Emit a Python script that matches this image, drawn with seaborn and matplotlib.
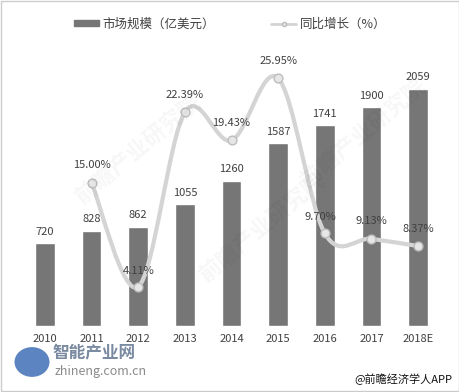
import numpy as np
import pandas as pd
import matplotlib
matplotlib.use("Agg")
import matplotlib.pyplot as plt
import seaborn as sns
from matplotlib.path import Path
from matplotlib.patches import PathPatch, Rectangle, Circle
from matplotlib.lines import Line2D

# ------------------------------------------
# data
# ------------------------------------------
years = ["2010", "2011", "2012", "2013", "2014", "2015", "2016", "2017", "2018E"]
market_size = [720, 828, 862, 1055, 1260, 1587, 1741, 1900, 2059]
growth_years = ["2011", "2012", "2013", "2014", "2015", "2016", "2017", "2018E"]
growth_rate = [15.00, 4.11, 22.39, 19.43, 25.95, 9.70, 9.13, 8.37]

bar_label = "市场规模（亿美元）"
line_label = "同比增长（%）"

sns.set_theme(style="white")
plt.rcParams["font.family"] = ["Noto Sans CJK SC", "DejaVu Sans"]

bar_color = "#767676"
line_color = "#d4d4d4"
text_color = "#404040"

df = pd.DataFrame({"year": years, "size": market_size})

fig = plt.figure(figsize=(4.6, 3.92), dpi=100)
ax = fig.add_axes([21.7 / 460, 66 / 392, 419.6 / 460, 266 / 392])

sns.barplot(data=df, x="year", y="size", color=bar_color, width=0.42,
            saturation=1, ax=ax)
ax.set_ylim(0, 2307)
ax.set_xlim(-0.5, len(years) - 0.5)
ax.set_xlabel("")
ax.set_ylabel("")
ax.set_yticks([])
ax.tick_params(axis="x", length=0, labelsize=8, labelcolor=text_color, pad=6)
for s in ax.spines.values():
    s.set_visible(False)

for i, v in enumerate(market_size):
    ax.text(i, v + 55, str(v), ha="center", va="bottom", fontsize=8, color=text_color)

# ------------------------------------------
# growth line (secondary axis, smoothed)
# ------------------------------------------
ax2 = ax.twinx()
ax2.set_ylim(0, 27.85)
ax2.set_yticks([])
for s in ax2.spines.values():
    s.set_visible(False)

gx = np.array([years.index(y) for y in growth_years], dtype=float)
gy = np.array(growth_rate)

# catmull-rom -> cubic bezier in display space
pts = ax2.transData.transform(np.column_stack([gx, gy]))
verts = [pts[0]]
codes = [Path.MOVETO]
t = 1 / 6
for i in range(len(pts) - 1):
    p0 = pts[i - 1] if i > 0 else pts[i]
    p1 = pts[i]
    p2 = pts[i + 1]
    p3 = pts[i + 2] if i + 2 < len(pts) else pts[i + 1]
    c1 = p1 + (p2 - p0) * t
    c2 = p2 - (p3 - p1) * t
    verts += [c1, c2, p2]
    codes += [Path.CURVE4] * 3
path = Path(verts, codes)
ax2.add_patch(PathPatch(path, facecolor="none", edgecolor=line_color, lw=3,
                        transform=None, zorder=3, capstyle="round"))
ax2.scatter(gx, gy, s=40, color="#e6e6e6", edgecolor="#bdbdbd", linewidth=1, zorder=4)

offsets = {"2012": (0, 8), "2016": (-3, 8)}
for x, y, lab in zip(gx, gy, growth_years):
    dx, dy = offsets.get(lab, (0, 9))
    ax2.annotate(f"{growth_rate[growth_years.index(lab)]:.2f}%", (x, y),
                 xytext=(dx, dy), textcoords="offset points",
                 ha="center", va="bottom", fontsize=8, color=text_color, zorder=5)

# ------------------------------------------
# legend
# ------------------------------------------
handles = [Rectangle((0, 0), 1, 1, color=bar_color),
           Line2D([0], [0], color=line_color, lw=2, marker="o", markersize=3,
                  markerfacecolor="#e6e6e6", markeredgecolor="#bdbdbd")]
fig.legend(handles, [bar_label, line_label], loc="center", ncol=2,
           bbox_to_anchor=(0.5, 1 - 24 / 392), frameon=False, fontsize=9,
           handlelength=2.0, handleheight=0.45, handletextpad=0.3,
           columnspacing=4.5, labelcolor=text_color)

# ------------------------------------------
# watermarks / logos
# ------------------------------------------
for xc, yc in [(0.30, 0.62), (0.57, 0.42), (0.79, 0.66)]:
    fig.text(xc, yc, "前瞻产业研究院", fontsize=16, color="#000000", alpha=0.035,
             rotation=40, ha="center", va="center", fontweight="bold")

fig.patches.append(Circle((32 / 460, 1 - 362 / 392), 0.038, transform=fig.transFigure,
                          facecolor="#3f6fb5", alpha=0.85, edgecolor="none"))
fig.text(52 / 460, 1 - 352 / 392, "智能产业网", fontsize=12, fontweight="bold",
         color="#7a8aa0", ha="left", va="center")
fig.text(55 / 460, 1 - 372 / 392, "zhineng.com.cn", fontsize=9,
         color="#8a8a8a", ha="left", va="center")
fig.text(452 / 460, 1 - 379 / 392, "@前瞻经济学人APP", fontsize=8,
         color="#111111", ha="right", va="center")

fig.patches.append(Rectangle((0.002, 0.003), 0.995, 0.994, transform=fig.transFigure,
                             facecolor="none", edgecolor="#cccccc", lw=1))

fig.savefig("out.png", dpi=100)
